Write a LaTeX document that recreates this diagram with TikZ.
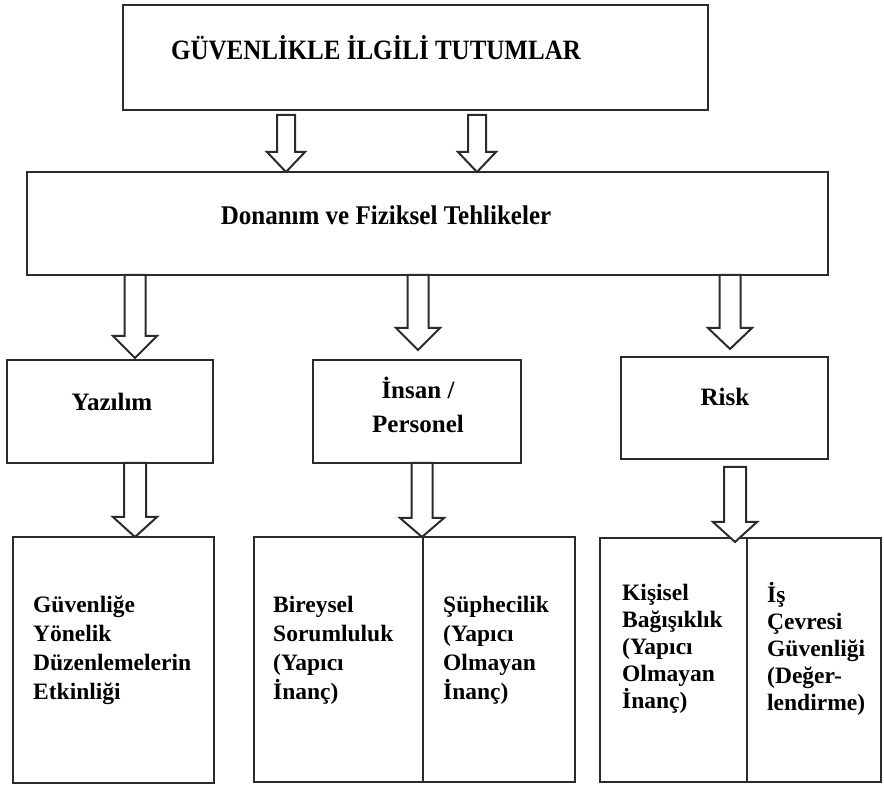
\documentclass[tikz,border=0pt]{standalone}
\usepackage{fontspec}
\setmainfont{Liberation Serif}
\usetikzlibrary{calc}
\definecolor{ink}{rgb}{0.17,0.17,0.17}
\tikzset{
  box/.style={draw=ink, line width=2.2pt, inner sep=0pt, outer sep=0pt},
  cell/.style={draw=ink, line width=1.9pt, inner sep=0pt, outer sep=0pt},
  arrowline/.style={draw=ink, line width=2pt, fill=white, line join=miter},
  headtxt/.style={font=\bfseries\fontsize{25}{30}\selectfont, inner sep=0pt},
  bodytxt/.style={font=\bfseries\fontsize{23.5}{29}\selectfont, inner sep=0pt, align=left, anchor=west},
}
\newcommand\barrow[5]{%
  \draw[arrowline] let \p1=(#1), \p2=(#2) in
    (\x1-#3pt,\y1) -- (\x1-#3pt,\y2+#5pt) -- (\x1-#4pt,\y2+#5pt) -- (\x1,\y2)
    -- (\x1+#4pt,\y2+#5pt) -- (\x1+#3pt,\y2+#5pt) -- (\x1+#3pt,\y1) -- cycle;}
\begin{document}
\begin{tikzpicture}[x=1pt,y=1pt]
\useasboundingbox (0,0) rectangle (884,787);
% level 1
\node[box, minimum width=585, minimum height=105] (top) at (415.5,729.5) {};
\node[headtxt] (toptxt) at (376,739) {\scalebox{1}[1.12]{GÜVENLİKLE İLGİLİ TUTUMLAR}};
\node[box, minimum width=801, minimum height=103] (don) at (427.5,563.5) {};
\node[headtxt] (dontxt) at (386,572) {\scalebox{1}[1.08]{Donanım ve Fiziksel Tehlikeler}};
% level 2
\node[box, minimum width=206, minimum height=103] (yaz) at (110,375.5) {};
\node[headtxt] (yaztxt) at (112,385) {Yazılım};
\node[box, minimum width=208, minimum height=103] (ins) at (417,375.5) {};
\node[headtxt, align=center, font=\bfseries\fontsize{25}{34}\selectfont] (instxt) at (418,382) {İnsan /\\Personel};
\node[box, minimum width=207, minimum height=102] (risk) at (724.5,379) {};
\node[headtxt] (risktxt) at (725,390) {Risk};
% level 3
\node[box, minimum width=201, minimum height=246] (b1) at (113.5,127) {};
\node[bodytxt] (b1txt) at (33,137) {Güvenliğe\\Yönelik\\Düzenlemelerin\\Etkinliği};
\node[box, minimum width=169, minimum height=245] (b2a) at (338.5,127.5) {};
\node[box, minimum width=152, minimum height=245] (b2b) at (499,127.5) {};
\draw[cell] (b2a.north east) -- (b2a.south east);
\node[bodytxt] (b2atxt) at (273,137) {Bireysel\\Sorumluluk\\(Yapıcı\\İnanç)};
\node[bodytxt] (b2btxt) at (443,137) {Şüphecilik\\(Yapıcı\\Olmayan\\İnanç)};
\node[box, minimum width=147, minimum height=244] (b3a) at (673.5,127) {};
\node[box, minimum width=134, minimum height=244] (b3b) at (814,127) {};
\draw[cell] (b3a.north east) -- (b3a.south east);
\node[bodytxt, font=\bfseries\fontsize{23.5}{27}\selectfont] (b3atxt) at (622,138) {Kişisel\\Bağışıklık\\(Yapıcı\\Olmayan\\İnanç)};
\node[bodytxt, font=\bfseries\fontsize{23.5}{27}\selectfont] (b3btxt) at (767,138) {İş\\Çevresi\\Güvenliği\\(Değer-\\lendirme)};
% arrow end points
\coordinate (t1s) at (286,672); \coordinate (t1e) at (286,615);
\coordinate (t2s) at (477,672); \coordinate (t2e) at (477,615);
\coordinate (m1s) at (135,512); \coordinate (m1e) at (135,429);
\coordinate (m2s) at (418,512); \coordinate (m2e) at (418,437);
\coordinate (m3s) at (730,512); \coordinate (m3e) at (730,438);
\coordinate (l1s) at (135,324); \coordinate (l1e) at (135,250);
\coordinate (l2s) at (422,324); \coordinate (l2e) at (422,250);
\coordinate (l3s) at (735,320); \coordinate (l3e) at (735,245);
\barrow{t1s}{t1e}{9}{19}{20}
\barrow{t2s}{t2e}{9}{19}{20}
\barrow{m1s}{m1e}{10.5}{22}{22}
\barrow{m2s}{m2e}{10.5}{22}{22}
\barrow{m3s}{m3e}{10.5}{22}{21}
\barrow{l1s}{l1e}{11}{22}{20}
\barrow{l2s}{l2e}{10.5}{22}{19}
\barrow{l3s}{l3e}{11}{22}{20}
\end{tikzpicture}
\end{document}
